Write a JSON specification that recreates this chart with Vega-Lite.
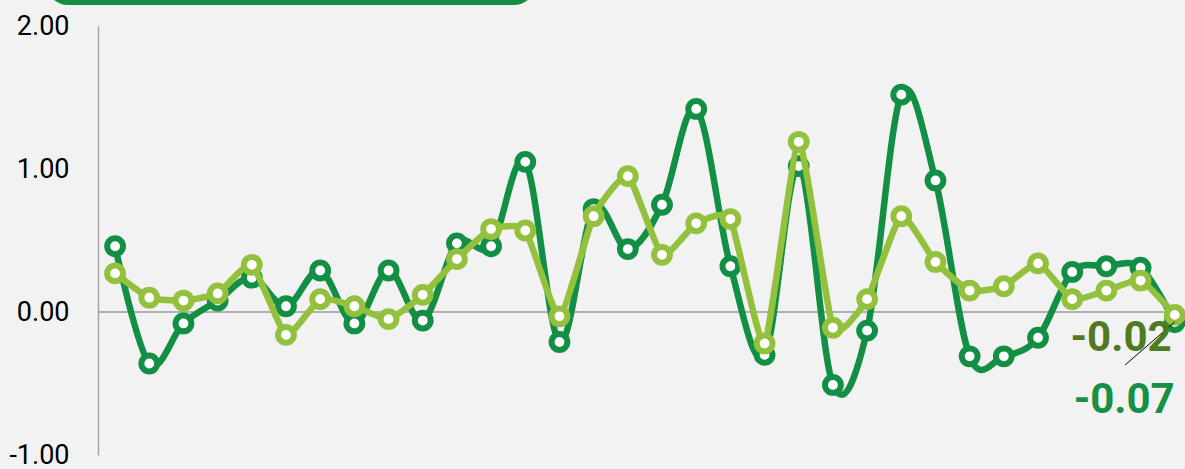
{
  "$schema": "https://vega.github.io/schema/vega-lite/v6.json",
  "autosize": {"type": "none"},
  "padding": {"left": 98, "top": 26, "right": 0, "bottom": 14},
  "width": 1087,
  "height": 429,
  "background": "#f2f2f2",
  "config": {"view": {"stroke": null, "fill": "#f2f2f2"}},
  "datasets": {
    "series": [
      {"i": 1, "s": "dark", "v": 0.46}, {"i": 2, "s": "dark", "v": -0.36}, {"i": 3, "s": "dark", "v": -0.08}, {"i": 4, "s": "dark", "v": 0.08},
      {"i": 5, "s": "dark", "v": 0.24}, {"i": 6, "s": "dark", "v": 0.04}, {"i": 7, "s": "dark", "v": 0.29}, {"i": 8, "s": "dark", "v": -0.08},
      {"i": 9, "s": "dark", "v": 0.29}, {"i": 10, "s": "dark", "v": -0.06}, {"i": 11, "s": "dark", "v": 0.48}, {"i": 12, "s": "dark", "v": 0.46},
      {"i": 13, "s": "dark", "v": 1.05}, {"i": 14, "s": "dark", "v": -0.21}, {"i": 15, "s": "dark", "v": 0.72}, {"i": 16, "s": "dark", "v": 0.44},
      {"i": 17, "s": "dark", "v": 0.75}, {"i": 18, "s": "dark", "v": 1.42}, {"i": 19, "s": "dark", "v": 0.32}, {"i": 20, "s": "dark", "v": -0.30},
      {"i": 21, "s": "dark", "v": 1.02}, {"i": 22, "s": "dark", "v": -0.51}, {"i": 23, "s": "dark", "v": -0.13}, {"i": 24, "s": "dark", "v": 1.52},
      {"i": 25, "s": "dark", "v": 0.92}, {"i": 26, "s": "dark", "v": -0.31}, {"i": 27, "s": "dark", "v": -0.31}, {"i": 28, "s": "dark", "v": -0.18},
      {"i": 29, "s": "dark", "v": 0.28}, {"i": 30, "s": "dark", "v": 0.32}, {"i": 31, "s": "dark", "v": 0.31}, {"i": 32, "s": "dark", "v": -0.07},
      {"i": 1, "s": "light", "v": 0.27}, {"i": 2, "s": "light", "v": 0.10}, {"i": 3, "s": "light", "v": 0.08}, {"i": 4, "s": "light", "v": 0.13},
      {"i": 5, "s": "light", "v": 0.33}, {"i": 6, "s": "light", "v": -0.16}, {"i": 7, "s": "light", "v": 0.09}, {"i": 8, "s": "light", "v": 0.04},
      {"i": 9, "s": "light", "v": -0.05}, {"i": 10, "s": "light", "v": 0.12}, {"i": 11, "s": "light", "v": 0.37}, {"i": 12, "s": "light", "v": 0.58},
      {"i": 13, "s": "light", "v": 0.57}, {"i": 14, "s": "light", "v": -0.03}, {"i": 15, "s": "light", "v": 0.67}, {"i": 16, "s": "light", "v": 0.95},
      {"i": 17, "s": "light", "v": 0.40}, {"i": 18, "s": "light", "v": 0.62}, {"i": 19, "s": "light", "v": 0.65}, {"i": 20, "s": "light", "v": -0.22},
      {"i": 21, "s": "light", "v": 1.19}, {"i": 22, "s": "light", "v": -0.11}, {"i": 23, "s": "light", "v": 0.09}, {"i": 24, "s": "light", "v": 0.67},
      {"i": 25, "s": "light", "v": 0.35}, {"i": 26, "s": "light", "v": 0.15}, {"i": 27, "s": "light", "v": 0.18}, {"i": 28, "s": "light", "v": 0.34},
      {"i": 29, "s": "light", "v": 0.09}, {"i": 30, "s": "light", "v": 0.15}, {"i": 31, "s": "light", "v": 0.22}, {"i": 32, "s": "light", "v": -0.02}
    ],
    "box": [{"x1": -1.02, "x2": 13.31, "y1": 2.147, "y2": 2.6}],
    "zero": [{"y": 0}],
    "leader": [{"x1": 30.55, "y1": -0.37, "x2": 32.0, "y2": -0.07}],
    "labels": [
      {"x": 30.43, "y": -0.18, "t": "-0.02", "s": "lightlab"},
      {"x": 30.52, "y": -0.615, "t": "-0.07", "s": "darklab"}
    ]
  },
  "layer": [
    {
      "data": {"name": "box"},
      "mark": {"type": "rect", "color": "#138f45", "cornerRadius": 22},
      "encoding": {
        "x": {"field": "x1", "type": "quantitative", "scale": {"domain": [0.5, 32.3], "nice": false, "zero": false}, "axis": null},
        "x2": {"field": "x2"},
        "y": {"field": "y1", "type": "quantitative", "scale": {"domain": [-1, 2], "nice": false, "zero": false},
          "axis": {"values": [-1, 0, 1, 2], "labelExpr": "replace(format(datum.value, '.2f'), '\u2212', '-')", "title": null, "grid": false, "ticks": false,
            "labelFont": "Roboto", "labelFontSize": 27, "labelColor": "#000000", "labelPadding": 29,
            "domainColor": "#a6a6a6", "domainWidth": 1.5}},
        "y2": {"field": "y2"}
      }
    },
    {
      "data": {"name": "zero"},
      "mark": {"type": "rule", "color": "#9a9a9a", "strokeWidth": 1.5},
      "encoding": {"y": {"field": "y", "type": "quantitative"}}
    },
    {
      "data": {"name": "series"},
      "transform": [{"filter": "datum.s === 'dark'"}],
      "mark": {"type": "line", "interpolate": "cardinal", "tension": 0, "color": "#138f45", "strokeWidth": 6.5},
      "encoding": {
        "x": {"field": "i", "type": "quantitative"},
        "y": {"field": "v", "type": "quantitative"}
      }
    },
    {
      "data": {"name": "series"},
      "transform": [{"filter": "datum.s === 'dark'"}],
      "mark": {"type": "point", "shape": "circle", "filled": true, "fill": "#ffffff", "stroke": "#138f45", "strokeWidth": 6, "size": 250, "opacity": 1},
      "encoding": {
        "x": {"field": "i", "type": "quantitative"},
        "y": {"field": "v", "type": "quantitative"}
      }
    },
    {
      "data": {"name": "series"},
      "transform": [{"filter": "datum.s === 'light'"}],
      "mark": {"type": "line", "interpolate": "cardinal", "tension": 0.5, "color": "#93c13d", "strokeWidth": 6.5},
      "encoding": {
        "x": {"field": "i", "type": "quantitative"},
        "y": {"field": "v", "type": "quantitative"}
      }
    },
    {
      "data": {"name": "series"},
      "transform": [{"filter": "datum.s === 'light'"}],
      "mark": {"type": "point", "shape": "circle", "filled": true, "fill": "#ffffff", "stroke": "#93c13d", "strokeWidth": 6, "size": 250, "opacity": 1},
      "encoding": {
        "x": {"field": "i", "type": "quantitative"},
        "y": {"field": "v", "type": "quantitative"}
      }
    },
    {
      "data": {"name": "leader"},
      "mark": {"type": "rule", "color": "#000000", "strokeWidth": 1},
      "encoding": {
        "x": {"field": "x1", "type": "quantitative"},
        "y": {"field": "y1", "type": "quantitative"},
        "x2": {"field": "x2"},
        "y2": {"field": "y2"}
      }
    },
    {
      "data": {"name": "labels"},
      "mark": {"type": "text", "font": "Roboto", "fontWeight": "bold", "fontSize": 42, "align": "center", "baseline": "middle"},
      "encoding": {
        "x": {"field": "x", "type": "quantitative"},
        "y": {"field": "y", "type": "quantitative"},
        "text": {"field": "t"},
        "color": {"field": "s", "type": "nominal", "scale": {"domain": ["lightlab", "darklab"], "range": ["#4e7a22", "#178f45"]}, "legend": null}
      }
    }
  ]
}
